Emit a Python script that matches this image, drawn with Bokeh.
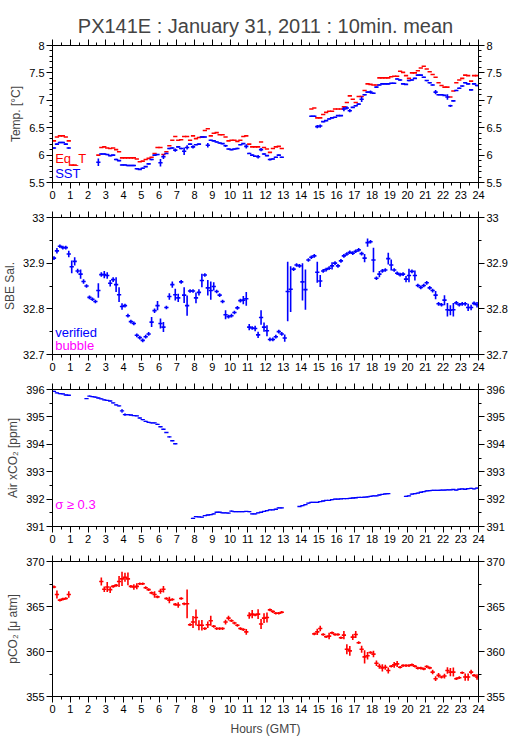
import numpy as np
from bokeh.plotting import figure
from bokeh.layouts import column
from bokeh.models import FixedTicker, LinearAxis, Label, Range1d, PrintfTickFormatter
from bokeh.embed import file_html
from bokeh.resources import INLINE

# ---------------- data (10-min means, slot k covers k*10 .. k*10+10 minutes) -------------
N_SLOTS = 144
_ = None

EQ_T = [6.26, 6.33, 6.35, 6.35, 6.33, 6.26,
        5.82, 5.82, _, _, _, _,
        _, _, _, 6.00, 6.14, 6.15,
        6.13, 6.12, 6.13, 6.10, 6.06, 5.95,
        5.95, 5.95, 5.95, 5.95, 5.93, 5.88,
        5.89, 5.92, 5.94, 5.96, 6.03, 6.14,
        6.14, 6.01, 6.06, 6.17, 6.27, 6.34,
        6.27, 6.28, 6.34, 6.34, 6.27, 6.35,
        6.30, 6.32, 6.33, 6.45, 6.48, 6.35,
        6.40, 6.41, 6.37, 6.37, 6.33, 6.26,
        6.27, 6.27, 6.25, 6.27, 6.34, 6.35,
        6.20, 6.15, 6.15, 6.15, 6.24, 6.14,
        6.11, 6.05, 6.12, 6.15, 6.16, 6.12,
        _, _, _, _, _, _,
        _, _, _, 6.84, 6.86, 6.68,
        6.68, 6.74, 6.78, 6.80, 6.80, 6.84,
        6.84, 6.84, 6.88, 6.96, 7.08, 7.02,
        6.96, 7.07, 7.07, 7.18, 7.30, 7.29,
        7.28, 7.28, 7.41, 7.41, 7.41, 7.41,
        7.43, 7.44, 7.44, 7.53, 7.51, 7.45,
        7.40, 7.50, 7.50, 7.54, 7.59, 7.62,
        7.57, 7.52, 7.47, 7.42, 7.32, 7.27,
        7.24, 7.24, 7.06, 7.17, 7.32, 7.37,
        7.40, 7.46, 7.45, 7.35, 7.45, 7.45]

SST = [6.13, 6.20, 6.23, 6.23, 6.20, 6.13,
       _, _, _, _, _, _,
       _, _, _, 5.87, 6.02, 6.02,
       6.01, 5.99, 6.00, 5.92, 5.90, 5.82,
       5.82, 5.81, 5.81, 5.81, 5.75, 5.74,
       5.76, 5.79, 5.84, 5.92, 6.00, 6.01,
       5.86, 5.97, 6.03, 6.12, 6.13, 6.09,
       6.15, 6.12, 6.07, 6.14, 6.20, 6.15,
       6.19, 6.20, 6.33, 6.33, 6.18, 6.27,
       6.26, 6.24, 6.22, 6.21, 6.17, 6.11,
       6.10, 6.11, 6.12, 6.19, 6.21, 6.16,
       6.03, 6.00, 5.98, 5.97, 6.10, 6.02,
       5.99, 5.92, 5.93, 5.96, 6.00, 5.96,
       _, _, _, _, _, _,
       _, _, _, 6.71, 6.71, 6.52,
       6.53, 6.61, 6.63, 6.66, 6.68, 6.69,
       6.72, 6.72, 6.84, 6.86, 6.81, 6.87,
       6.90, 6.93, 7.02, 7.10, 7.15, 7.15,
       7.13, 7.24, 7.28, 7.30, 7.30, 7.30,
       7.31, 7.31, 7.39, 7.37, 7.30, 7.29,
       7.36, 7.37, 7.40, 7.46, 7.46, 7.42,
       7.36, 7.32, 7.28, 7.15, 7.10, 7.10,
       7.09, 7.06, 6.90, 6.99, 7.18, 7.22,
       7.26, 7.32, 7.30, 7.19, 7.30, 7.27]
SST_SD_DEFAULT = 0.012
SST_SD = {15: 0.07, 36: 0.07, 37: 0.04, 41: 0.03, 44: 0.07, 45: 0.04, 47: 0.03,
          52: 0.04, 58: 0.02, 65: 0.04, 69: 0.03, 70: 0.03, 73: 0.02, 89: 0.03,
          90: 0.03, 98: 0.04, 99: 0.03, 100: 0.03, 104: 0.05, 107: 0.03,
          129: 0.04, 133: 0.05, 134: 0.02}
EQT_SD_DEFAULT = 0.0

SAL = [32.911, 32.927, 32.937, 32.934, 32.934, 32.920,
       32.892, 32.904, 32.883, 32.876, 32.860, 32.850,
       32.825, 32.821, 32.816, 32.840, 32.875, 32.875,
       32.873, 32.856, 32.864, 32.853, 32.831, 32.805,
       32.807, 32.785, 32.772, 32.768, 32.742, 32.737,
       32.731, 32.739, 32.745, 32.771, 32.796, 32.807,
       32.768, 32.760, 32.803, 32.827, 32.853, 32.831,
       32.824, 32.859, 32.830, 32.807, 32.839, 32.839,
       32.824, 32.836, 32.862, 32.874, 32.846, 32.840,
       32.849, 32.838, 32.830, 32.816, 32.787, 32.783,
       32.785, 32.792, 32.802, 32.818, 32.819, 32.822,
       32.760, 32.758, 32.757, 32.743, 32.781, 32.760,
       32.752, 32.733, 32.733, 32.739, 32.750, 32.745,
       32.736, 32.838, 32.843, 32.887, 32.896, 32.894,
       32.859, 32.842, 32.907, 32.913, 32.916, 32.880,
       32.861, 32.883, 32.886, 32.889, 32.894, 32.900,
       32.894, 32.905, 32.916, 32.920, 32.924, 32.922,
       32.926, 32.929, 32.921, 32.911, 32.945, 32.947,
       32.907, 32.867, 32.876, 32.883, 32.885, 32.910,
       32.896, 32.885, 32.878, 32.875, 32.876, 32.865,
       32.873, 32.882, 32.873, 32.851, 32.847, 32.851,
       32.857, 32.846, 32.840, 32.830, 32.811, 32.809,
       32.819, 32.798, 32.797, 32.798, 32.813, 32.809,
       32.811, 32.811, 32.803, 32.803, 32.812, 32.809]
SAL_SD_DEFAULT = 0.004
SAL_SD = {1: .006, 5: .007, 6: .014, 7: .009, 8: .005, 9: .010, 10: .005, 15: .016,
          16: .005, 17: .008, 18: .007, 19: .007, 20: .005, 21: .016, 22: .016,
          23: .007, 33: .011, 34: .005, 35: .010, 36: .011, 37: .011, 39: .007,
          40: .007, 41: .013, 42: .009, 44: .017, 45: .022, 48: .012, 49: .007,
          50: .015, 52: .017, 53: .020, 54: .009, 58: .010, 64: .009, 65: .015,
          66: .007, 68: .006, 69: .007, 70: .016, 71: .010, 72: .012, 78: .008,
          79: .065, 80: .050, 84: .041, 85: .044, 89: .023, 90: .013, 94: .008,
          105: .009, 106: .009, 108: .027, 110: .007, 113: .013, 114: .012,
          119: .007, 120: .015, 122: .011, 129: .009, 132: .011, 133: .015,
          134: .011, 135: .015, 140: .008, 141: .006, 143: .006}

AIR_XCO2 = [395.93, 395.88, 395.85, 395.84, 395.80, 395.79,
            _, _, _, _, _, 395.67,
            395.76, 395.74, 395.72, 395.69, 395.66, 395.62,
            395.60, 395.58, 395.51, 395.44, 395.40, 395.22,
            395.08, 395.08, 395.07, 395.05, 395.04, 394.96,
            394.90, 394.84, 394.80, 394.78, 394.78, 394.73,
            394.64, 394.55, 394.43, 394.27, 394.13, 394.02,
            _, _, _, _, _, 391.30,
            391.36, 391.35, 391.34, 391.40, 391.42, 391.43,
            391.46, 391.52, 391.52, 391.50, 391.50, 391.49,
            391.56, 391.54, 391.54, 391.54, 391.54, 391.55,
            391.54, 391.46, 391.46, 391.50, 391.52, 391.55,
            391.58, 391.61, 391.61, 391.63, 391.68, 391.68,
            _, _, _, _, _, 391.73,
            391.76, 391.80, 391.85, 391.88, 391.88, 391.88,
            391.91, 391.93, 391.95, 391.95, 391.98, 392.00,
            392.00, 392.01, 392.02, 392.02, 392.03, 392.04,
            392.05, 392.06, 392.06, 392.07, 392.08, 392.10,
            392.12, 392.12, 392.15, 392.17, 392.19, 392.20,
            _, _, _, _, _, 392.10,
            392.12, 392.18, 392.20, 392.22, 392.25, 392.27,
            392.30, 392.31, 392.32, 392.32, 392.32, 392.33,
            392.33, 392.34, 392.34, 392.35, 392.33, 392.36,
            392.37, 392.36, 392.38, 392.39, 392.37, 392.40]
AIR_SD_DEFAULT = 0.02
AIR_SD = {23: 0.07, 24: 0.05}

PCO2 = [367.17, 366.33, 365.71, 365.82, 365.89, 366.33,
        _, _, _, _, _, _,
        _, _, _, _, 367.78, 366.91,
        367.16, 366.87, 367.24, 367.35, 367.78, 368.07,
        368.25, 368.07, 367.24, 367.16, 367.24, 367.53,
        367.53, 367.09, 366.87, 366.51, 366.33, 366.07,
        366.69, 366.91, 365.89, 365.71, 365.78, 365.24,
        365.16, 365.89, 365.30, 365.30, 362.98, 363.27,
        363.78, 362.91, 362.91, 362.55, 362.98, 363.42,
        362.80, 362.55, 362.55, 362.55, 363.27, 363.71,
        363.42, 363.16, 362.91, 362.55, 362.44, 362.18,
        364.00, 364.15, 364.07, 364.15, 363.05, 363.71,
        363.78, 364.62, 364.44, 364.25, 364.25, 364.36,
        _, _, _, _, _, _,
        _, _, _, _, 361.96, 362.18,
        362.55, 361.89, 361.64, 361.71, 362.07, 361.89,
        361.89, 361.53, 361.82, 360.25, 360.07, 361.60,
        361.89, 360.98, 360.25, 359.40, 359.53, 359.89,
        359.71, 358.69, 358.36, 358.18, 358.25, 357.89,
        358.36, 358.51, 358.62, 358.25, 358.44, 358.44,
        358.44, 358.51, 358.36, 358.15, 358.15, 358.07,
        358.33, 358.18, 357.71, 356.98, 357.35, 357.16,
        357.27, 357.89, 357.71, 357.71, 356.98, 357.09,
        357.64, 357.16, 357.16, 357.71, 357.35, 357.16]
PCO2_SD_DEFAULT = 0.15
PCO2_SD = {1: .45, 5: .36, 16: .44, 17: .31, 18: .55, 19: .36, 22: .6, 23: .8, 24: .5,
           25: .7, 27: .31, 28: .33, 34: .36, 36: .27, 37: .36, 39: .36, 42: .31,
           45: 1.6, 47: .67, 48: .9, 49: .55, 50: .58, 52: .36, 53: .55, 58: .27,
           59: .27, 65: .33, 66: .36, 67: .45, 69: .55, 70: .55, 71: .55, 72: .55,
           89: .36, 90: .31, 93: .36, 98: .45, 99: .55, 100: .55, 101: .33, 102: .4,
           104: .4, 105: .73, 106: .42, 108: .36, 109: .31, 110: .27, 111: .4,
           112: .27, 113: .33, 115: .31, 116: .33, 128: .25, 129: .27, 130: .25,
           132: .27, 133: .36, 134: .45, 135: .5, 139: .4, 140: .4, 141: .25, 143: .3}

X_TICKS = list(range(0, 25))
X_MINOR = [h + 0.5 for h in range(0, 24)]
Y1_TICKS = [5.5, 6, 6.5, 7, 7.5, 8]
Y2_TICKS = [32.7, 32.8, 32.9, 33.0]
Y3_TICKS = [391, 392, 393, 394, 395, 396]
Y4_TICKS = [355, 360, 365, 370]

TITLE = "PX141E : January 31, 2011 : 10min. mean"

BLUE = "#0000ff"
RED = "#ff0000"
MAGENTA = "#ff00ff"
FONT = "Liberation Sans"
HW = 0.12  # half width of the horizontal bar (hours)

W = 514
LEFT, RIGHT = 51, 36
FRAME_H = 137


def style_axis(ax, labels=True):
    ax.axis_line_color = "black"
    ax.major_tick_line_color = "black"
    ax.minor_tick_line_color = "black"
    ax.major_tick_in = 0
    ax.minor_tick_in = 0
    ax.major_tick_out = 6
    ax.minor_tick_out = 3
    ax.major_label_text_font = FONT
    if labels:
        ax.major_label_text_color = "black"
        ax.major_label_text_font_size = "11px"
        ax.major_label_standoff = 2
    else:
        ax.major_label_text_color = None
        ax.major_label_text_alpha = 0
        ax.major_label_text_font_size = "0px"
        ax.major_label_standoff = 0
    ax.axis_label_text_font = FONT
    ax.axis_label_text_font_size = "12px"
    ax.axis_label_text_font_style = "normal"
    ax.axis_label_standoff = 3


def make_fig(top, bottom, yr, yticks, yminor, ylabel, title=None, xlabel=None):
    h = top + FRAME_H + bottom
    p = figure(width=W, height=h, x_range=Range1d(0, 24), y_range=Range1d(*yr),
               output_backend="svg", toolbar_location=None,
               x_axis_location=None, y_axis_location=None,
               min_border_left=LEFT, min_border_right=RIGHT,
               min_border_top=top, min_border_bottom=bottom,
               title=title)
    p.grid.visible = False
    p.outline_line_color = "black"
    p.background_fill_color = "white"
    p.border_fill_color = "white"
    if title:
        p.title.text_font = FONT
        p.title.text_font_size = "20px"
        p.title.text_font_style = "normal"
        p.title.align = "center"
        p.title.vertical_align = "top"
        p.title.standoff = 2
    xt = FixedTicker(ticks=X_TICKS, minor_ticks=X_MINOR)
    yt = FixedTicker(ticks=yticks, minor_ticks=yminor)
    fmt = PrintfTickFormatter(format="%g")
    below = LinearAxis(ticker=xt, axis_label=xlabel)
    style_axis(below, True)
    if xlabel:
        below.axis_label_standoff = 6
    above = LinearAxis(ticker=xt)
    style_axis(above, False)
    left = LinearAxis(ticker=yt, formatter=fmt, axis_label=ylabel)
    style_axis(left, True)
    right = LinearAxis(ticker=yt, formatter=fmt)
    style_axis(right, True)
    p.add_layout(below, "below")
    p.add_layout(above, "above")
    p.add_layout(left, "left")
    p.add_layout(right, "right")
    return p


def crosses(p, vals, sd, sd_default, color, lw=1.6):
    xs, ys, ss = [], [], []
    for k in range(N_SLOTS):
        v = vals[k]
        if v is None:
            continue
        xs.append((k + 0.5) / 6.0)
        ys.append(v)
        ss.append(sd.get(k, sd_default))
    xs = np.array(xs); ys = np.array(ys); ss = np.array(ss)
    p.segment(x0=xs - HW, y0=ys, x1=xs + HW, y1=ys, line_color=color, line_width=lw)
    keep = ss > 0
    if keep.any():
        p.segment(x0=xs[keep], y0=ys[keep] - ss[keep], x1=xs[keep], y1=ys[keep] + ss[keep],
                  line_color=color, line_width=lw)


def label(p, x, y, text, color):
    p.add_layout(Label(x=x, y=y, text=text, text_color=color, text_font=FONT,
                       text_font_size="13px", text_baseline="middle", text_align="left"))


p1 = make_fig(45, 21, (5.5, 8), Y1_TICKS, [round(5.5 + 0.1 * i, 2) for i in range(26)],
              "Temp. [°C]", title=TITLE)
crosses(p1, EQ_T, {}, EQT_SD_DEFAULT, RED)
crosses(p1, SST, SST_SD, SST_SD_DEFAULT, BLUE)
label(p1, 0.15, 5.94, "Eq_T", RED)
label(p1, 0.15, 5.67, "SST", BLUE)

p2 = make_fig(14, 21, (32.7, 33.0), Y2_TICKS, [32.75, 32.85, 32.95], "SBE Sal.")
crosses(p2, SAL, SAL_SD, SAL_SD_DEFAULT, BLUE)
label(p2, 0.15, 32.749, "verified", BLUE)
label(p2, 0.15, 32.72, "bubble", MAGENTA)

p3 = make_fig(14, 21, (391, 396), Y3_TICKS, [391.5, 392.5, 393.5, 394.5, 395.5],
              "Air xCO\u2082 [ppm]")
crosses(p3, AIR_XCO2, AIR_SD, AIR_SD_DEFAULT, BLUE, lw=1.3)
label(p3, 0.15, 391.79, "\u03c3 \u2265 0.3", MAGENTA)

p4 = make_fig(14, 40, (355, 370), Y4_TICKS, [357.5, 362.5, 367.5],
              "pCO\u2082 [\u03bc atm]", xlabel="Hours (GMT)")
crosses(p4, PCO2, PCO2_SD, PCO2_SD_DEFAULT, RED)

layout = column(p1, p2, p3, p4, spacing=0)
open("out.html", "w").write(file_html(layout, INLINE))
